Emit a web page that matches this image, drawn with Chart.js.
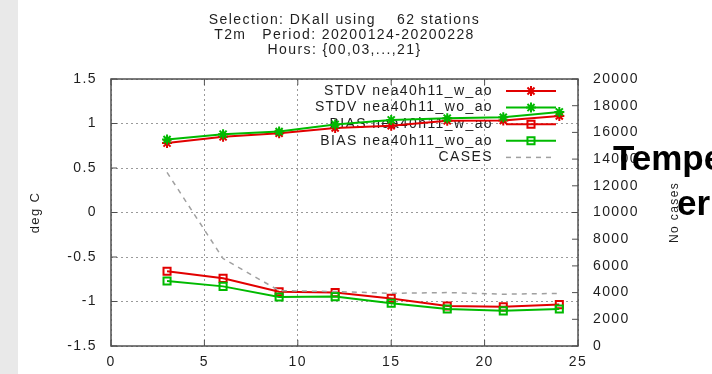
<!DOCTYPE html>
<html>
<head>
<meta charset="utf-8">
<script src="https://cdn.jsdelivr.net/npm/chart.js@4.4.1/dist/chart.umd.min.js"></script>
<style>
  html, body { margin: 0; padding: 0; background: #fff; overflow: hidden; }
  #wrap { position: relative; width: 712px; height: 374px; overflow: hidden; }
  #strip { position: absolute; left: 0; top: 0; width: 18px; height: 374px; background: #e9e9e9; }
  #plot { position: absolute; left: 0; top: 0; }
  .big { position: absolute; font: bold 35px 'Liberation Sans', Arial, sans-serif; color: #000; white-space: nowrap; line-height: 1; }
</style>
</head>
<body>
<div id="wrap">
  <div id="strip"></div>
  <canvas id="plot" width="712" height="374"></canvas>
  <div class="big" style="left:613px; top:140px;">Tempe</div>
  <div class="big" style="left:677px; top:185px;">er</div>
</div>
<script>
// verification hours (lead time, h)
const hours = [3, 6, 9, 12, 15, 18, 21, 24];

// T2m scores, deg C
const stdvWithAo    = [0.78, 0.85, 0.89, 0.95, 0.975, 1.03, 1.035, 1.085];
const stdvWithoutAo = [0.82, 0.88, 0.91, 0.99, 1.04, 1.06, 1.07, 1.13];
const biasWithAo    = [-0.66, -0.74, -0.89, -0.90, -0.965, -1.05, -1.06, -1.035];
const biasWithoutAo = [-0.77, -0.83, -0.95, -0.945, -1.02, -1.085, -1.105, -1.085];

// number of cases per hour
const cases = [13000, 6550, 4150, 4080, 3950, 4000, 3880, 3940];

const seriesNames = ['STDV nea40h11_w_ao', 'STDV nea40h11_wo_ao', 'BIAS nea40h11_w_ao', 'BIAS nea40h11_wo_ao', 'CASES'];
const titleLines = ['Selection: DKall using    62 stations', 'T2m   Period: 20200124-20200228', 'Hours: {00,03,...,21}'];

const RED = 'rgb(226,0,0)';
const GREEN = 'rgb(0,186,0)';
const GREY = 'rgb(160,160,160)';
const TEXT = '#1e1e1e';
const GRID = 'rgba(120,120,120,0.75)';
const FONT = "'Liberation Sans', Arial, sans-serif";
const SPACING = '1.4px';

Chart.defaults.font.family = FONT;
Chart.defaults.font.size = 14;
Chart.defaults.color = TEXT;

const pts = arr => hours.map((h, i) => ({ x: h, y: arr[i] }));
const plain = v => String(v);

function marker(ctx, style, color, x, y) {
  ctx.save();
  ctx.strokeStyle = color;
  ctx.lineWidth = 2;
  ctx.beginPath();
  if (style === 'star') {
    const r = 5, d = r * Math.SQRT1_2;
    ctx.moveTo(x - r, y); ctx.lineTo(x + r, y);
    ctx.moveTo(x, y - r); ctx.lineTo(x, y + r);
    ctx.moveTo(x - d, y - d); ctx.lineTo(x + d, y + d);
    ctx.moveTo(x - d, y + d); ctx.lineTo(x + d, y - d);
  } else {
    const s = 5 * Math.SQRT1_2;
    ctx.rect(x - s, y - s, 2 * s, 2 * s);
  }
  ctx.stroke();
  ctx.restore();
}

// gnuplot-like frame, inward ticks, key and titles
const decorations = {
  id: 'decorations',
  beforeUpdate(chart) { chart.ctx.letterSpacing = SPACING; },
  beforeDraw(chart) { chart.ctx.letterSpacing = SPACING; },
  beforeDatasetsDraw(chart) {
    const { ctx, chartArea: a, scales } = chart;
    ctx.save();
    ctx.strokeStyle = '#505050';
    ctx.lineWidth = 1.5;
    ctx.strokeRect(a.left, a.top, a.right - a.left, a.bottom - a.top);
    ctx.lineWidth = 1;
    ctx.beginPath();
    scales.x.ticks.forEach(t => {
      const px = scales.x.getPixelForValue(t.value);
      ctx.moveTo(px, a.bottom); ctx.lineTo(px, a.bottom - 6);
      ctx.moveTo(px, a.top); ctx.lineTo(px, a.top + 6);
    });
    scales.y.ticks.forEach(t => {
      const py = scales.y.getPixelForValue(t.value);
      ctx.moveTo(a.left, py); ctx.lineTo(a.left + 6, py);
    });
    scales.y2.ticks.forEach(t => {
      const py = scales.y2.getPixelForValue(t.value);
      ctx.moveTo(a.right, py); ctx.lineTo(a.right - 6, py);
    });
    ctx.stroke();

    // key, top right inside the frame
    ctx.font = '14px ' + FONT;
    ctx.fillStyle = TEXT;
    ctx.textAlign = 'right';
    ctx.textBaseline = 'middle';
    chart.data.datasets.forEach((ds, i) => {
      const y = a.top + 12 + i * 16.6;
      ctx.fillText(ds.label, a.right - 85, y);
      ctx.save();
      ctx.strokeStyle = ds.borderColor;
      ctx.lineWidth = ds.borderWidth;
      ctx.setLineDash(ds.borderDash || []);
      ctx.beginPath();
      ctx.moveTo(a.right - 72, y); ctx.lineTo(a.right - 22, y);
      ctx.stroke();
      ctx.restore();
      if (ds.pointRadius > 0) marker(ctx, ds.pointStyle, ds.borderColor, a.right - 47, y);
    });
    ctx.restore();
  },
  afterDraw(chart) {
    const { ctx, chartArea: a, scales } = chart;
    ctx.save();
    ctx.letterSpacing = SPACING;
    ctx.font = '14px ' + FONT;
    ctx.fillStyle = TEXT;
    ctx.textAlign = 'center';
    ctx.textBaseline = 'alphabetic';
    const cx = (a.left + a.right) / 2;
    titleLines.forEach((line, i) => ctx.fillText(line, cx, 23.5 + i * 15));

    // right axis title, reading upwards
    ctx.font = '12px ' + FONT;
    ctx.translate(scales.y2.left + 97, (a.top + a.bottom) / 2);
    ctx.rotate(-Math.PI / 2);
    ctx.textBaseline = 'middle';
    ctx.fillText('No cases', 0, 0);
    ctx.restore();
  }
};

new Chart(document.getElementById('plot'), {
  type: 'line',
  data: {
    datasets: [
      { label: seriesNames[0], data: pts(stdvWithAo), yAxisID: 'y', order: 5,
        borderColor: RED, backgroundColor: RED, borderWidth: 2,
        pointStyle: 'star', pointRadius: 5, pointBorderWidth: 2 },
      { label: seriesNames[1], data: pts(stdvWithoutAo), yAxisID: 'y', order: 4,
        borderColor: GREEN, backgroundColor: GREEN, borderWidth: 2,
        pointStyle: 'star', pointRadius: 5, pointBorderWidth: 2 },
      { label: seriesNames[2], data: pts(biasWithAo), yAxisID: 'y', order: 3,
        borderColor: RED, backgroundColor: 'rgba(0,0,0,0)', borderWidth: 2,
        pointStyle: 'rect', pointRadius: 5, pointBorderWidth: 2 },
      { label: seriesNames[3], data: pts(biasWithoutAo), yAxisID: 'y', order: 2,
        borderColor: GREEN, backgroundColor: 'rgba(0,0,0,0)', borderWidth: 2,
        pointStyle: 'rect', pointRadius: 5, pointBorderWidth: 2 },
      { label: seriesNames[4], data: pts(cases), yAxisID: 'y2', order: 1,
        borderColor: GREY, borderWidth: 1.5, borderDash: [5, 5], pointRadius: 0 }
    ]
  },
  options: {
    responsive: false,
    animation: false,
    events: [],
    layout: { padding: { top: 79, left: 0, right: 0, bottom: 0 } },
    plugins: { legend: { display: false }, tooltip: { enabled: false }, title: { display: false } },
    scales: {
      x: {
        type: 'linear', min: 0, max: 25,
        ticks: { stepSize: 5, padding: 8, callback: plain },
        grid: { color: GRID, drawTicks: false },
        border: { display: false, dash: [2, 3] },
        afterFit: s => { s.height = 28; }
      },
      y: {
        position: 'left', min: -1.5, max: 1.5,
        ticks: { stepSize: 0.5, padding: 14, callback: plain },
        grid: { color: GRID, drawTicks: false },
        border: { display: false, dash: [2, 3] },
        title: { display: true, text: 'deg C', font: { size: 13 }, padding: { top: 28, bottom: 0 } },
        afterFit: s => { s.width = 111; }
      },
      y2: {
        position: 'right', min: 0, max: 20000,
        ticks: { stepSize: 2000, padding: 15, callback: plain },
        grid: { drawOnChartArea: false, drawTicks: false },
        border: { display: false },
        afterFit: s => { s.width = 134; }
      }
    }
  },
  plugins: [decorations]
});
</script>
</body>
</html>
